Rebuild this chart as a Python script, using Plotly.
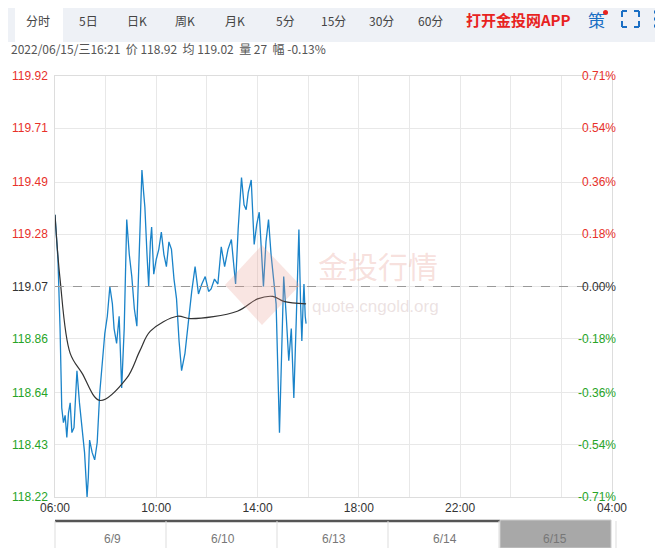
import plotly.graph_objects as go

PREV = 119.07
times = ["06:00","06:04","06:07","06:12","06:16","06:20","06:24","06:28","06:32","06:36","06:40","06:45","06:48","06:52","06:58","07:04","07:10","07:16","07:19","07:22","07:28","07:34","07:40","07:46","07:52","07:58","08:04","08:10","08:16","08:20","08:26","08:32","08:38","08:44","08:50","08:56","09:02","09:08","09:14","09:20","09:26","09:30","09:33","09:38","09:42","09:46","09:49","09:54","10:00","10:06","10:12","10:18","10:24","10:30","10:36","10:42","10:48","10:54","11:00","11:08","11:16","11:24","11:32","11:40","11:48","11:56","12:04","12:10","12:18","12:26","12:34","12:42","12:50","12:58","13:04","13:08","13:14","13:22","13:28","13:33","13:38","13:45","13:52","13:58","14:04","14:10","14:14","14:20","14:26","14:32","14:38","14:44","14:52","14:56","15:02","15:08","15:14","15:20","15:26","15:32","15:38","15:42","15:45","15:48","15:50","15:53","15:55"]
price = [119.36,119.25,119.18,118.90,118.58,118.52,118.55,118.46,118.56,118.60,118.48,118.50,118.62,118.73,118.60,118.50,118.40,118.22,118.30,118.45,118.40,118.37,118.44,118.64,118.78,118.88,118.95,119.07,119.00,118.90,118.84,118.95,118.66,118.90,119.34,119.20,119.11,118.98,118.91,119.20,119.54,119.45,119.39,119.20,119.07,119.25,119.31,119.12,119.18,119.22,119.29,119.20,119.15,119.25,119.22,119.10,119.02,118.85,118.73,118.80,118.93,119.05,119.15,119.04,119.08,119.11,119.05,119.06,119.10,119.08,119.23,119.15,119.22,119.26,119.15,119.08,119.30,119.51,119.40,119.38,119.45,119.50,119.24,119.32,119.37,119.20,119.07,119.25,119.34,119.20,119.11,119.00,118.48,118.70,119.11,118.95,118.77,118.90,118.62,118.95,119.30,119.00,118.85,119.00,119.08,118.95,118.92]
avg_times = ["06:00","06:12","06:36","07:04","07:46","08:50","09:21","09:46","10:50","11:21","13:12","14:00","14:36","15:02","15:55"]
avg = [119.36,119.10,118.80,118.72,118.61,118.70,118.81,118.89,118.95,118.94,118.97,119.02,119.03,119.01,119.00]
left_ticks = [119.92,119.71,119.49,119.28,119.07,118.86,118.64,118.43,118.22]
right_ticks = ["0.71%","0.54%","0.36%","0.18%","0.00%","-0.18%","-0.36%","-0.54%","-0.71%"]
x_tickvals = [6,8,10,12,14,16,18,20,22,24,26,28]
x_ticktext = ["06:00","","10:00","","14:00","","18:00","","22:00","","","04:00"]
nav_vals = [0.55,0.6,0.5,0.55,0.45,0.5,0.4,0.45,0.5,0.35,0.45,0.3,0.45,0.4,0.5,0.6,0.7,0.3,0.55,0.2,0.25,0.15,0.2,0.1,0.15,0.1,0.2,0.05,0.15,0.5,0.3,0.6,0.45,0.55,0.4,0.5,0.55,0.5,0.6,0.55,0.7,0.8,0.95,0.7,0.6,0.2,0.0]
nav_last = [0.2,0.25,0.22,0.3,0.28,0.33,0.3]
nav_dates = ["6/9","6/10","6/13","6/14","6/15"]

def h(t):
    a, b = t.split(":")
    return int(a) + int(b) / 60

O = 8
W, H = 663 - O, 548 - O
L, R, T, B = 55, 612, 76, 497
def px(x): return (x - L) / (R - L)
def py(y): return (B - y) / (B - T)

def txt(x, y, text, size, color, family="Noto Sans CJK SC", xanchor="center", yref="paper"):
    return dict(xref="paper", yref=yref, x=px(x), y=(py(y) if yref == "paper" else y), text=text,
                showarrow=False, xanchor=xanchor, yanchor="middle",
                font=dict(size=size, color=color, family=family))

fig = go.Figure()
fig.add_trace(go.Scatter(x=[h(t) for t in times], y=price, mode="lines",
                         line=dict(color="#1a83c9", width=1.3), hoverinfo="skip"))
fig.add_trace(go.Scatter(x=[h(t) for t in avg_times], y=avg, mode="lines", line_shape="spline",
                         line=dict(color="#333333", width=1.2), hoverinfo="skip"))

shapes = [dict(type="line", xref="paper", yref="y", x0=0, x1=1, y0=PREV, y1=PREV,
               line=dict(color="#999", width=1, dash="dash"))]
ann = []
for v, r in zip(left_ticks, right_ticks):
    c = "#e8312a" if v > PREV else ("#333" if v == PREV else "#27a427")
    ann.append(txt(50, v, f"{v:.2f}", 12, c, "Liberation Sans", "right", "y"))
    ann.append(txt(618, v, r, 12, c, "Liberation Sans", "right", "y"))
shapes.append(dict(type="rect", xref="paper", yref="paper", x0=px(0), x1=px(663), y0=py(42), y1=py(5),
                   fillcolor="#eef1f6", line=dict(width=0), layer="below"))
shapes.append(dict(type="rect", xref="paper", yref="paper", x0=px(15), x1=px(63), y0=py(42), y1=py(6),
                   fillcolor="white", line=dict(width=0)))
shapes.append(dict(type="line", xref="paper", yref="paper", x0=px(15), x1=px(63), y0=py(7), y1=py(7),
                   line=dict(color="#1a5fb4", width=2)))
tabs = [("分时",38),("5日",88),("日K",137),("周K",185),("月K",235),("5分",285),("15分",333),("30分",381),("60分",430)]
for t, x in tabs:
    ann.append(txt(x, 20, t, 12, "#444"))
ann.append(txt(518, 19, "<b>打开金投网APP</b>", 15, "#e8231f"))
ann.append(txt(596, 19, "策", 17, "#1a6fc4"))
# fullscreen icon corners
for (x0, y0, x1, y1) in [(622,11,622,17),(622,11,627,11),(634,11,639,11),(639,11,639,17),
                         (622,21,622,27),(622,27,627,27),(639,21,639,27),(634,27,639,27)]:
    shapes.append(dict(type="line", xref="paper", yref="paper", x0=px(x0), x1=px(x1), y0=py(y0), y1=py(y1),
                       line=dict(color="#1a6fc4", width=2)))
for yy in [12, 19, 26]:
    shapes.append(dict(type="rect", xref="paper", yref="paper", x0=px(654), x1=px(657), y0=py(yy+1.5), y1=py(yy-1.5),
                       fillcolor="#1a6fc4", line=dict(width=0)))
shapes.append(dict(type="circle", xref="paper", yref="paper", x0=px(603), x1=px(608), y0=py(15), y1=py(10),
                   fillcolor="#e8231f", line=dict(width=0)))
ann.append(txt(9, 48, "2022/06/15/三16:21  价 118.92  均 119.02  量 27  幅 -0.13%", 12, "#555", xanchor="left"))
ann.append(txt(378, 265, "金投行情", 30, "rgba(230,150,140,0.3)"))
ann.append(txt(375, 306, "quote.cngold.org", 17, "rgba(200,170,170,0.35)", "Liberation Sans"))
shapes.append(dict(type="path", xref="paper", yref="paper",
                   path=f"M {px(262)} {py(245)} L {px(300)} {py(285)} L {px(262)} {py(325)} L {px(225)} {py(285)} Z",
                   fillcolor="rgba(230,150,140,0.25)", line=dict(width=0)))
shapes.append(dict(type="line", xref="paper", yref="paper", x0=px(55), x1=px(500), y0=py(521), y1=py(521),
                   line=dict(color="#555", width=2.5)))
shapes.append(dict(type="rect", xref="paper", yref="paper", x0=px(500), x1=px(611), y0=py(548), y1=py(520),
                   fillcolor="#a8a8a8", line=dict(color="#ccc", width=1)))
for x in [55, 166, 277, 388, 499, 616]:
    shapes.append(dict(type="line", xref="paper", yref="paper", x0=px(x), x1=px(x), y0=py(548), y1=py(521),
                       line=dict(color="#ddd", width=1)))
for d, x in zip(nav_dates, [112, 223, 334, 445, 555]):
    ann.append(txt(x, 539, d, 12, "#777", "Liberation Sans"))
n = len(nav_vals)
nx = [px(55 + i * (445 / (n - 1))) for i in range(n)]
ny = [py(546 - v * 18) for v in nav_vals]
fig.add_trace(go.Scatter(x=nx, y=ny, xaxis="x2", yaxis="y2", mode="lines",
                         line=dict(color="#999", width=1), hoverinfo="skip"))
m = len(nav_last)
fig.add_trace(go.Scatter(x=[px(505 + i * 40 / (m - 1)) for i in range(m)], y=[py(546 - v * 18) for v in nav_last],
                         xaxis="x2", yaxis="y2", mode="lines", line=dict(color="#777", width=1), hoverinfo="skip"))

fig.update_layout(
    width=W, height=H, autosize=False, margin=dict(l=L - O, r=663 - R, t=T - O, b=548 - B),
    plot_bgcolor="white", paper_bgcolor="white", showlegend=False,
    shapes=shapes, annotations=ann,
    xaxis=dict(range=[6, 28], tickvals=x_tickvals, ticktext=x_ticktext, showgrid=True, gridcolor="#e8e8e8",
               zeroline=False, showline=True, linecolor="#ddd", mirror=True, ticks="",
               tickfont=dict(size=12, color="#333", family="Liberation Sans")),
    yaxis=dict(range=[118.22, 119.92], tickvals=left_ticks, showticklabels=False, showgrid=True,
               gridcolor="#e8e8e8", zeroline=False, showline=True, linecolor="#ddd", mirror=True),
    xaxis2=dict(range=[0, 1], overlaying="x", visible=False),
    yaxis2=dict(range=[0, 1], overlaying="y", visible=False),
)
fig.write_html("out.html")
